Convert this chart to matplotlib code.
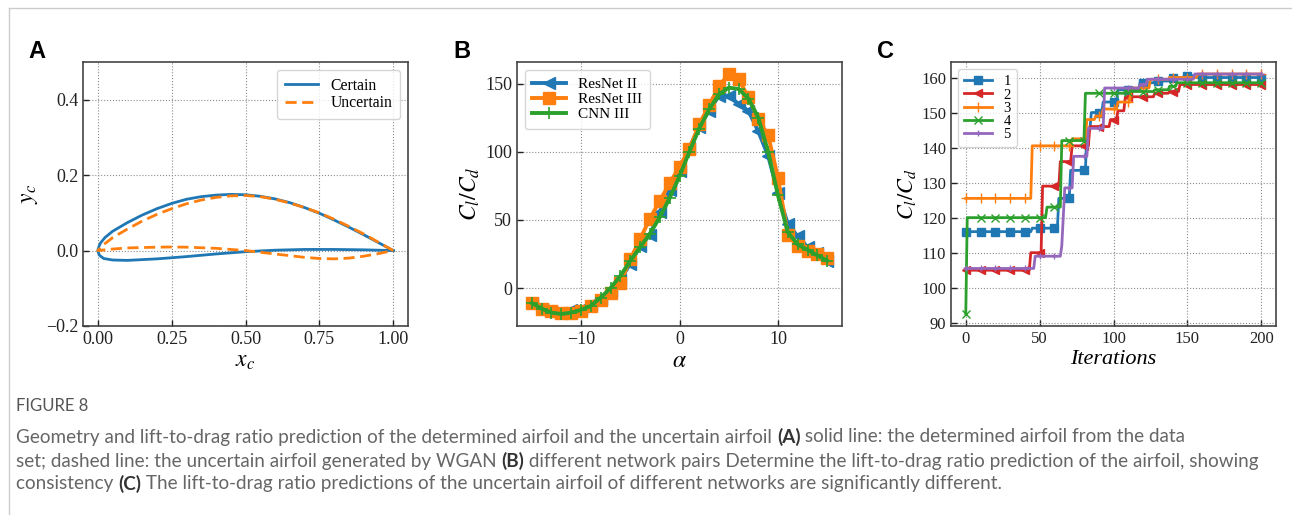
import numpy as np
import matplotlib
matplotlib.use("Agg")
import matplotlib.pyplot as plt
from matplotlib.lines import Line2D

plt.rcParams["font.family"] = ["Liberation Serif", "DejaVu Serif"]
plt.rcParams["mathtext.fontset"] = "stix"

# ---------- data: panel A (airfoil geometry) ----------
cert_up_x = [0.0, 0.005, 0.01, 0.025, 0.05, 0.1, 0.15, 0.2, 0.25, 0.3, 0.35, 0.4, 0.45, 0.5,
             0.55, 0.6, 0.65, 0.7, 0.75, 0.8, 0.85, 0.9, 0.95, 1.0]
cert_up_y = [0.0, 0.013, 0.021, 0.035, 0.051, 0.074, 0.094, 0.111, 0.125, 0.136, 0.143, 0.147,
             0.149, 0.148, 0.144, 0.137, 0.127, 0.114, 0.099, 0.081, 0.062, 0.042, 0.021, 0.0]
cert_lo_x = [0.0, 0.005, 0.02, 0.05, 0.1, 0.2, 0.3, 0.4, 0.5, 0.6, 0.7, 0.8, 0.9, 1.0]
cert_lo_y = [0.0, -0.012, -0.021, -0.025, -0.026, -0.022, -0.016, -0.009, -0.003, 0.001,
             0.003, 0.003, 0.002, 0.0]
unc_up_x = [0.0, 0.02, 0.05, 0.1, 0.15, 0.2, 0.25, 0.3, 0.35, 0.4, 0.45, 0.5, 0.55, 0.6,
            0.65, 0.7, 0.75, 0.8, 0.85, 0.9, 0.95, 1.0]
unc_up_y = [0.0, 0.016, 0.034, 0.057, 0.078, 0.096, 0.111, 0.124, 0.134, 0.141, 0.145, 0.146,
            0.143, 0.136, 0.126, 0.114, 0.100, 0.083, 0.064, 0.044, 0.022, 0.0]
unc_lo_x = [0.0, 0.05, 0.1, 0.2, 0.25, 0.3, 0.4, 0.5, 0.6, 0.7, 0.75, 0.8, 0.85, 0.9, 0.95, 1.0]
unc_lo_y = [0.0, 0.004, 0.007, 0.009, 0.0095, 0.009, 0.006, 0.0, -0.009, -0.018, -0.021,
            -0.022, -0.020, -0.015, -0.008, 0.0]

# ---------- data: panel B (Cl/Cd vs alpha) ----------
alpha = list(range(-15, 16))
resnet2 = [-11, -15, -17, -18, -16, -15, -12, -8, -2, 6, 18, 31, 39, 56, 72, 86, 103, 118,
           130, 141, 141, 135, 130, 115, 97, 70, 47, 38, 30, 26, 20]
resnet3 = [-11, -15, -17, -18.5, -18, -17, -13, -9, -3.5, 4, 21, 36, 51, 64, 77, 89, 102,
           120, 134, 148, 157, 153, 140, 124, 112, 81, 39, 31, 27, 25, 22]
cnn3 = [-11, -15, -18, -19, -18, -16, -13, -7, 0, 9, 20, 30, 40, 52, 66, 82, 100, 117, 131,
        142, 147, 146, 139, 125, 100, 68, 41, 32, 28, 24, 20]

# ---------- data: panel C (optimisation history, breakpoints: iteration, value) ----------
run_labels = ["1", "2", "3", "4", "5"]
run1_it = [0, 45, 63, 71, 82, 85, 93, 103, 118, 128, 138, 148, 155]
run1_val = [116, 117, 125.5, 133.5, 145, 150, 153, 156.5, 158.5, 159, 160, 160.5, 160]
run2_it = [0, 44, 52, 64, 72, 84, 98, 103, 108, 128, 138, 145]
run2_val = [105, 110, 129, 136, 140.5, 146, 148, 150.5, 154.5, 155.5, 156, 158]
run3_it = [0, 45, 72, 82, 88, 93, 103, 112, 125, 138, 157]
run3_val = [125.5, 140.5, 142.5, 148, 149, 151, 153, 157, 159.5, 160, 161]
run4_it = [0, 1, 55, 65, 81, 108, 128, 138, 143]
run4_val = [92.5, 120, 123, 142, 155.5, 156, 156.5, 157.5, 158.5]
run5_it = [0, 47, 65, 66, 67, 73, 83, 94, 118, 123, 155]
run5_val = [105.5, 109, 112, 120, 128.5, 137.5, 145.5, 157, 158, 159.5, 161]
n_iter = 201

# ---------- figure ----------
fig = plt.figure(figsize=(12.92, 5.15), dpi=100)
W, H = 1292, 515

def add_panel(left, top=62, right=None, bottom=326):
    return fig.add_axes([left / W, 1 - bottom / H, (right - left) / W, (bottom - top) / H])

def style_axes(ax, size=12):
    ax.grid(True, linestyle=":", color="#8c8c8c", linewidth=0.8)
    ax.set_axisbelow(True)
    ax.tick_params(direction="in", labelsize=size, length=4, width=1, colors="#222222")
    for s in ax.spines.values():
        s.set_color("#444444")
        s.set_linewidth(1.2)

# border lines of the figure box
fig.add_artist(Line2D([9 / W, 1], [1 - 8 / H, 1 - 8 / H], color="#cccccc", lw=1))
fig.add_artist(Line2D([9 / W, 9 / W], [1 - 8 / H, 0], color="#cccccc", lw=1))

# panel A
axA = add_panel(83, right=408)
axA.plot(cert_up_x[::-1] + cert_lo_x[1:], cert_up_y[::-1] + cert_lo_y[1:], color="#1f77b4",
         lw=2, label="Certain")
axA.plot(unc_up_x[::-1] + unc_lo_x[1:], unc_up_y[::-1] + unc_lo_y[1:], color="#ff7f0e",
         lw=2, ls=(0, (4, 2)), label="Uncertain")
axA.set_xlim(-0.05, 1.05)
axA.set_ylim(-0.2, 0.5)
axA.set_xticks([0.0, 0.25, 0.5, 0.75, 1.0])
axA.set_yticks([-0.2, 0.0, 0.2, 0.4])
axA.set_xticklabels(["0.00", "0.25", "0.50", "0.75", "1.00"])
axA.set_yticklabels(["\u22120.2", "0.0", "0.2", "0.4"])
style_axes(axA, 13)
axA.set_xlabel("$x_c$", fontsize=17, labelpad=2)
axA.set_ylabel("$y_c$", fontsize=17, labelpad=4)
axA.legend(loc="upper right", fontsize=11.3, handlelength=2.1, borderpad=0.5,
           labelspacing=0.1, framealpha=0.8)

# panel B
axB = add_panel(517, right=842)
axB.plot(alpha, resnet2, color="#1f77b4", lw=2.8, marker="<", ms=9, label="ResNet II")
axB.plot(alpha, resnet3, color="#ff7f0e", lw=2.8, marker="s", ms=9, label="ResNet III")
axB.plot(alpha, cnn3, color="#2ca02c", lw=2.8, marker="+", ms=8, mew=1.2, label="CNN III")
axB.set_xticks([-10, 0, 10])
axB.set_xticklabels(["\u221210", "0", "10"])
axB.set_yticks([0, 50, 100, 150])
style_axes(axB, 13)
axB.set_xlabel(r"$\alpha$", fontsize=17, labelpad=2)
axB.set_ylabel("$C_l/C_d$", fontsize=17, labelpad=2)
axB.legend(loc="upper left", fontsize=11, handlelength=2.2, borderpad=0.5,
           labelspacing=0.1, framealpha=0.8)

# panel C
axC = add_panel(951, right=1276)
runs = [(run1_it, run1_val, "#1f77b4", "s", 6),
        (run2_it, run2_val, "#d62728", "<", 6),
        (run3_it, run3_val, "#ff7f0e", "+", 7),
        (run4_it, run4_val, "#2ca02c", "x", 6),
        (run5_it, run5_val, "#9467bd", "+", 4)]
iters = np.arange(n_iter)
for (it, val, col, mk, ms), lab in zip(runs, run_labels):
    # best-so-far value held until the next breakpoint
    idx = np.searchsorted(it, iters, side="right") - 1
    series = np.asarray(val)[idx]
    axC.plot(iters, series, color=col, lw=2, marker=mk, ms=ms, markevery=10, label=lab)
axC.set_xticks([0, 50, 100, 150, 200])
axC.set_yticks([90, 100, 110, 120, 130, 140, 150, 160])
style_axes(axC, 12)
axC.set_xlabel("Iterations", fontsize=16, style="italic", labelpad=2)
axC.set_ylabel("$C_l/C_d$", fontsize=16, labelpad=2)
axC.legend(loc="upper left", fontsize=10.5, handlelength=1.9, borderpad=0.4,
           labelspacing=0.0, framealpha=0.8)

# panel letters
for x, letter in [(28, "A"), (453, "B"), (877, "C")]:
    fig.text(x / W, 1 - 51 / H, letter, fontsize=17, fontweight="bold",
             family="Liberation Sans", va="center", ha="left")

# caption
fig.text(16 / W, 1 - 406 / H, "FIGURE 8", fontsize=12, family="Lato", color="#555555",
         va="center", ha="left")
cap_lines = [
    [("Geometry and lift-to-drag ratio prediction of the determined airfoil and the uncertain airfoil ", False),
     ("(A)", True), (" solid line: the determined airfoil from the data", False)],
    [("set; dashed line: the uncertain airfoil generated by WGAN ", False), ("(B)", True),
     (" different network pairs Determine the lift-to-drag ratio prediction of the airfoil, showing", False)],
    [("consistency ", False), ("(C)", True),
     (" The lift-to-drag ratio predictions of the uncertain airfoil of different networks are significantly different.", False)],
]
cap_y = [437, 461, 484]
renderer = fig.canvas.get_renderer()
for segs, yy in zip(cap_lines, cap_y):
    xpos = 16
    for txt, bold in segs:
        t = fig.text(xpos / W, 1 - yy / H, txt, fontsize=13.6, family="Lato",
                     color="#333333" if bold else "#666666",
                     fontweight="bold" if bold else "normal", va="center", ha="left")
        xpos = t.get_window_extent(renderer).x1

fig.savefig("out.png", dpi=100)
